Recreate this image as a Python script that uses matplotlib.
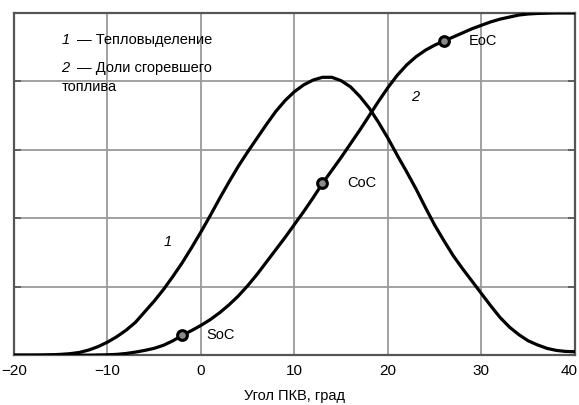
import matplotlib
matplotlib.use("Agg")
import matplotlib.pyplot as plt
import matplotlib.transforms as mtransforms

plt.rcParams['font.family'] = ['Liberation Sans', 'DejaVu Sans']

# crank angle, deg (1 deg step)
angle = list(range(-20, 41))
# 1 - heat release
heat = [0.0, 0.0, 0.0, 0.002, 0.006, 0.012, 0.022, 0.04, 0.075, 0.125,
        0.19, 0.27, 0.365, 0.48, 0.635, 0.79, 0.96, 1.15, 1.35, 1.57,
        1.80, 2.04, 2.29, 2.53, 2.76, 2.97, 3.17, 3.37, 3.56, 3.72,
        3.85, 3.95, 4.02, 4.06, 4.06, 4.01, 3.92, 3.78, 3.61, 3.40,
        3.17, 2.92, 2.68, 2.43, 2.16, 1.90, 1.67, 1.45, 1.26, 1.08,
        0.90, 0.72, 0.55, 0.41, 0.30, 0.21, 0.15, 0.10, 0.07, 0.055, 0.05]
# 2 - burned fuel fraction
burned = [0.0, 0.0, 0.0, 0.0, 0.0, 0.0, 0.0, 0.0, 0.0, 0.003,
          0.006, 0.012, 0.025, 0.045, 0.07, 0.10, 0.145, 0.21, 0.29, 0.36,
          0.435, 0.52, 0.62, 0.735, 0.865, 1.015, 1.18, 1.36, 1.54, 1.72,
          1.91, 2.10, 2.30, 2.51, 2.70, 2.89, 3.09, 3.29, 3.50, 3.71,
          3.91, 4.09, 4.24, 4.36, 4.455, 4.53, 4.59, 4.65, 4.71, 4.77,
          4.82, 4.87, 4.91, 4.94, 4.97, 4.985, 4.993, 4.997, 5.0, 5.0, 5.0]

points = ['SoC', 'CoC', 'EoC']
points_x = [-2, 13, 26]
points_y = [0.29, 2.51, 4.59]

fig = plt.figure(figsize=(5.79, 4.05), dpi=100)
ax = fig.add_axes([0.024, 0.123, 0.969, 0.845])

ax.plot(angle, heat, color='black', linewidth=2.3, solid_capstyle='round', zorder=3)
ax.plot(angle, burned, color='black', linewidth=2.3, solid_capstyle='round', zorder=3)

ax.plot(points_x, points_y, linestyle='none', marker='o', markersize=7,
        markerfacecolor='#8a8a8a', markeredgecolor='black', markeredgewidth=2.2, zorder=4)
for name, px, py in zip(points, points_x, points_y):
    ax.text(px + 2.6, py, name, fontsize=10.5, va='center', ha='left')

# curve numbers
ax.text(-3.5, 1.65, '1', fontsize=10.5, style='italic', ha='center', va='center')
ax.text(22.9, 3.77, '2', fontsize=10.5, style='italic', ha='center', va='center')

# legend text
ax.text(-14.9, 4.6, '1', fontsize=10.5, style='italic', va='center')
ax.text(-13.2, 4.6, '— Тепловыделение', fontsize=10.5, va='center')
ax.text(-14.9, 4.2, '2', fontsize=10.5, style='italic', va='center')
ax.text(-13.2, 4.2, '— Доли сгоревшего', fontsize=10.5, va='center')
ax.text(-14.9, 3.92, 'топлива', fontsize=10.5, va='center')

ax.set_xlim(-20, 40)
ax.set_ylim(0, 5)
ax.set_xticks([-20, -10, 0, 10, 20, 30, 40])
ax.set_xticklabels(['−20', '−10', '0', '10', '20', '30', '40'])
ax.set_yticks([0, 1, 2, 3, 4, 5])
ax.set_yticklabels([])
ax.tick_params(axis='both', direction='in', length=5, width=1.2, color='#555555',
               labelsize=11, left=True, right=True, top=False, bottom=False, pad=6)
ax.grid(True, color='#9a9a9a', linewidth=1.3)
for s in ax.spines.values():
    s.set_color('#555555')
    s.set_linewidth(1.6)

# keep the last tick label inside the picture
last = ax.get_xticklabels()[-1]
last.set_transform(last.get_transform() +
                   mtransforms.ScaledTranslation(-4 / 72, 0, fig.dpi_scale_trans))

ax.set_xlabel('Угол ПКВ, град', fontsize=10.5, labelpad=8)

fig.savefig('out.png', dpi=100)
